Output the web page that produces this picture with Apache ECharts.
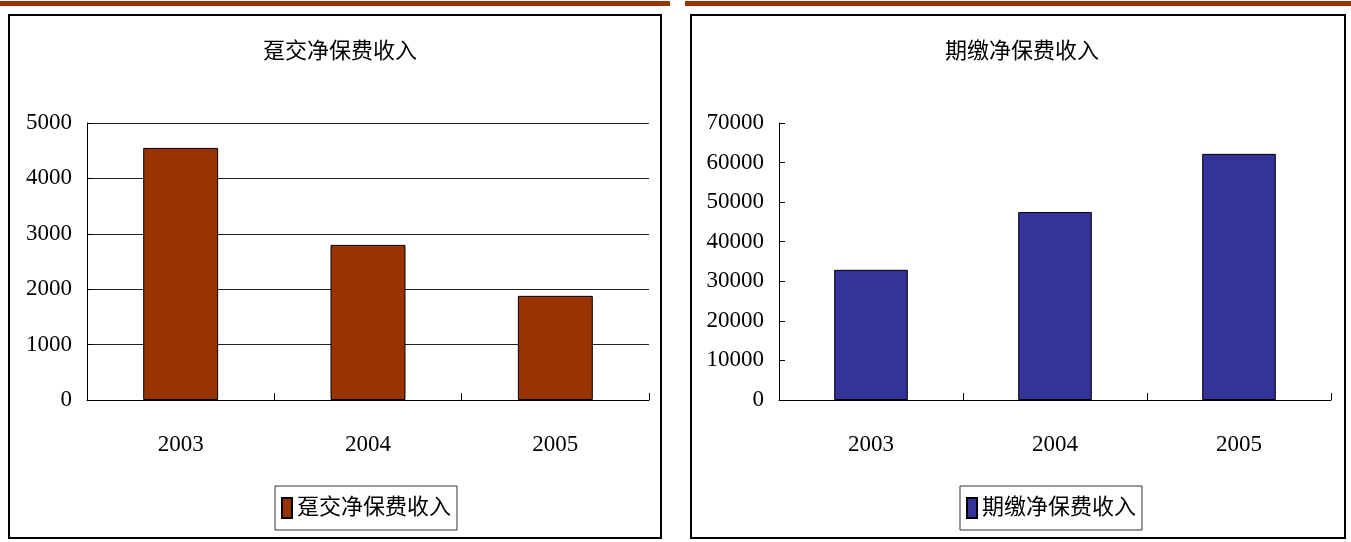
<!DOCTYPE html>
<html>
<head>
<meta charset="utf-8">
<script src="https://cdn.jsdelivr.net/npm/echarts@6/dist/echarts.min.js"></script>
<style>
  html, body { margin: 0; padding: 0; background: #fff; }
  #chart { width: 1351px; height: 542px; }
</style>
</head>
<body>
<div id="chart"></div>
<script>
// Net premium income, single-premium vs. regular-premium
const years = ['2003', '2004', '2005'];
const singleName = '趸交净保费收入';
const regularName = '期缴净保费收入';
const singlePremium = [4550, 2800, 1880];
const regularPremium = [32900, 47500, 62200];
const singleTicks = { min: 0, max: 5000, interval: 1000 };
const regularTicks = { min: 0, max: 70000, interval: 10000 };

const FONT = "'Liberation Serif', 'Noto Sans CJK SC', serif";
const RED = '#993300';
const BLUE = '#333399';

const chart = echarts.init(document.getElementById('chart'), null, { renderer: 'canvas' });

const xAxisBase = {
  type: 'category',
  data: years,
  boundaryGap: true,
  axisLine: { lineStyle: { color: '#000', width: 1 } },
  axisTick: { show: true, inside: true, length: 7, lineStyle: { color: '#000' } },
  axisLabel: { color: '#000', fontFamily: FONT, fontSize: 23, margin: 33 }
};

const yAxisBase = {
  type: 'value',
  axisLine: { show: true, lineStyle: { color: '#000', width: 1 } },
  axisTick: { show: true, inside: true, length: 6, lineStyle: { color: '#000' } },
  axisLabel: {
    color: '#000', fontFamily: FONT, fontSize: 23, margin: 15,
    formatter: (v) => String(v)
  }
};

const legendBase = {
  orient: 'horizontal', icon: 'rect', itemWidth: 10, itemHeight: 20, itemGap: 5,
  padding: [10, 6, 10, 6], borderColor: '#333', borderWidth: 1,
  textStyle: { fontFamily: FONT, fontSize: 22, lineHeight: 24, color: '#000' }
};

chart.setOption({
  animation: false,
  backgroundColor: '#fff',
  title: [
    {
      text: singleName, left: 335, top: 36, textAlign: 'center',
      textStyle: { fontFamily: FONT, fontSize: 22, fontWeight: 'normal', color: '#000' }
    },
    {
      text: regularName, left: 1017, top: 36, textAlign: 'center',
      textStyle: { fontFamily: FONT, fontSize: 22, fontWeight: 'normal', color: '#000' }
    }
  ],
  legend: [
    Object.assign({ data: [singleName], left: 275, top: 486 }, legendBase),
    Object.assign({ data: [regularName], left: 960, top: 486 }, legendBase)
  ],
  grid: [
    { left: 87, right: 702, top: 123, bottom: 142 },
    { left: 779, right: 20, top: 123, bottom: 142 }
  ],
  xAxis: [
    Object.assign({ gridIndex: 0 }, xAxisBase),
    Object.assign({ gridIndex: 1 }, xAxisBase)
  ],
  yAxis: [
    Object.assign({ gridIndex: 0 }, yAxisBase, singleTicks, {
      splitLine: { show: true, lineStyle: { color: '#222', width: 1 } }
    }),
    Object.assign({ gridIndex: 1 }, yAxisBase, regularTicks, {
      splitLine: { show: false }
    })
  ],
  series: [
    {
      name: singleName, type: 'bar', xAxisIndex: 0, yAxisIndex: 0,
      data: singlePremium, barWidth: '40%',
      itemStyle: { color: RED, borderColor: '#000', borderWidth: 1 }
    },
    {
      name: regularName, type: 'bar', xAxisIndex: 1, yAxisIndex: 1,
      data: regularPremium, barWidth: '40%',
      itemStyle: { color: BLUE, borderColor: '#000', borderWidth: 1 }
    }
  ],
  graphic: [
    // dark red rules across the top of each panel
    { type: 'rect', shape: { x: 0, y: 1, width: 670, height: 5 }, style: { fill: RED } },
    { type: 'rect', shape: { x: 685, y: 1, width: 666, height: 5 }, style: { fill: RED } },
    // panel frames
    { type: 'rect', shape: { x: 9, y: 15, width: 652, height: 523 },
      style: { fill: null, stroke: '#000', lineWidth: 2 }, silent: true },
    { type: 'rect', shape: { x: 691, y: 15, width: 654, height: 523 },
      style: { fill: null, stroke: '#000', lineWidth: 2 }, silent: true }
  ]
});
</script>
</body>
</html>
